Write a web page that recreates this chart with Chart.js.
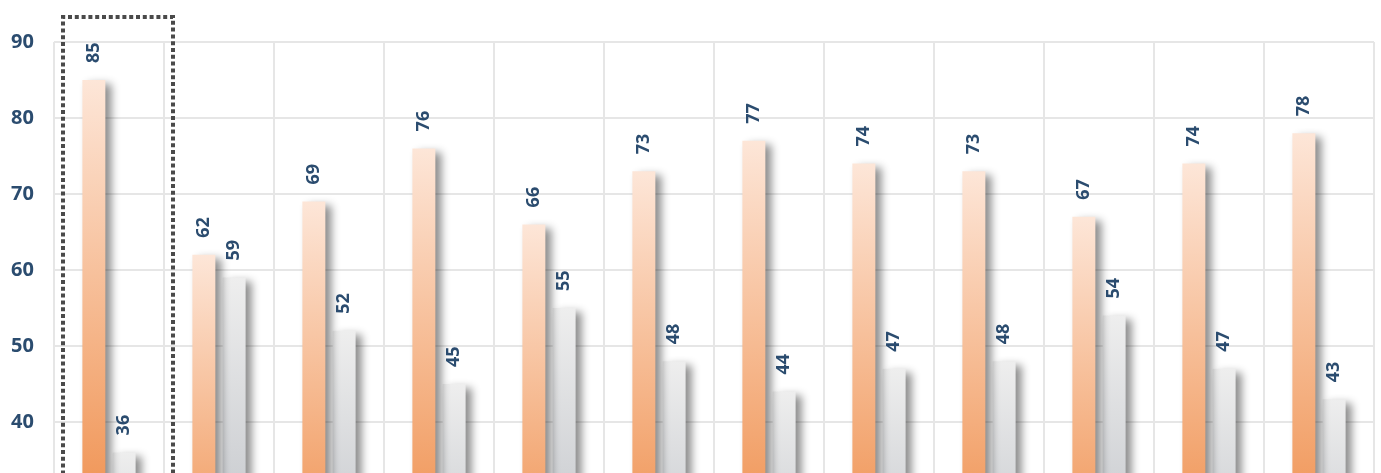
<!DOCTYPE html>
<html>
<head>
<meta charset="utf-8">
<title>Gráfico de barras</title>
<script src="https://cdn.jsdelivr.net/npm/chart.js@4/dist/chart.umd.min.js"></script>
<style>
  html, body { margin: 0; padding: 0; background: #fff; overflow: hidden; }
  canvas { display: block; }
</style>
</head>
<body>
<canvas id="chart" width="1381" height="760"></canvas>
<script>
// Dados do gráfico
const categories = ['1', '2', '3', '4', '5', '6', '7', '8', '9', '10', '11', '12'];
const seriesA = [85, 62, 69, 76, 66, 73, 77, 74, 73, 67, 74, 78];
const seriesB = [36, 59, 52, 45, 55, 48, 44, 47, 48, 54, 47, 43];
const yTicks = { min: 0, max: 90, step: 10 };

const TEXT_COLOR = '#2b4c6f';
const GRID_COLOR = '#e6e6e6';

/**
 * Gradiente vertical por barra: claro no topo, mais escuro na base (valor 0)
 */
function barGradient(topColor, baseColor) {
  return (context) => {
    const chart = context.chart;
    if (!chart.chartArea || context.type !== 'data') return baseColor;
    const y = chart.scales.y;
    const yTop = y.getPixelForValue(context.parsed.y);
    const yBase = y.getPixelForValue(0);
    const g = chart.ctx.createLinearGradient(0, yTop, 0, yBase);
    g.addColorStop(0, topColor);
    g.addColorStop(1, baseColor);
    return g;
  };
}

// Sombra à direita das barras
const barShadow = {
  id: 'barShadow',
  beforeDatasetsDraw(chart) {
    const ctx = chart.ctx;
    ctx.save();
    ctx.shadowColor = 'rgba(0, 0, 0, 0.45)';
    ctx.shadowBlur = 8;
    ctx.shadowOffsetX = 6;
    ctx.shadowOffsetY = 4;
  },
  afterDatasetsDraw(chart) {
    chart.ctx.restore();
  }
};

// Rótulos verticais acima de cada barra + destaque pontilhado na primeira categoria
const overlays = {
  id: 'overlays',
  afterDraw(chart) {
    const ctx = chart.ctx;

    ctx.save();
    ctx.fillStyle = TEXT_COLOR;
    ctx.font = 'bold 18px "Noto Sans", sans-serif';
    ctx.textAlign = 'left';
    ctx.textBaseline = 'middle';
    chart.data.datasets.forEach((ds, i) => {
      chart.getDatasetMeta(i).data.forEach((bar, j) => {
        ctx.save();
        ctx.translate(bar.x, bar.y - 17);
        ctx.rotate(-Math.PI / 2);
        ctx.fillText(String(ds.data[j]), 0, 0);
        ctx.restore();
      });
    });
    ctx.restore();

    // caixa pontilhada
    const x = chart.scales.x;
    const center = x.getPixelForValue(0);
    const left = center - 46;
    const right = center + 64;
    const top = chart.chartArea.top - 25;
    const bottom = chart.chartArea.bottom;
    ctx.save();
    ctx.strokeStyle = '#4a4a4a';
    ctx.lineWidth = 4;
    ctx.setLineDash([4, 2.8]);
    ctx.beginPath();
    ctx.moveTo(left, bottom);
    ctx.lineTo(left, top);
    ctx.lineTo(right, top);
    ctx.lineTo(right, bottom);
    ctx.stroke();
    ctx.restore();
  }
};

new Chart(document.getElementById('chart').getContext('2d'), {
  type: 'bar',
  data: {
    labels: categories,
    datasets: [
      {
        data: seriesA,
        backgroundColor: barGradient('#fde6d8', '#e9690f'),
        categoryPercentage: 0.55,
        barPercentage: 0.76
      },
      {
        data: seriesB,
        backgroundColor: barGradient('#eeeeee', '#a6abb3'),
        categoryPercentage: 0.55,
        barPercentage: 0.76
      }
    ]
  },
  options: {
    responsive: false,
    animation: false,
    devicePixelRatio: 1,
    layout: { padding: { top: 42, right: 7, bottom: 34, left: 0 } },
    plugins: {
      legend: { display: false },
      tooltip: { enabled: false }
    },
    scales: {
      x: {
        grid: { color: GRID_COLOR, lineWidth: 2, offset: true, drawTicks: false },
        border: { display: false },
        ticks: { display: false },
        afterFit(scale) { scale.height = 0; }
      },
      y: {
        min: yTicks.min,
        max: yTicks.max,
        grid: { color: GRID_COLOR, lineWidth: 2, drawTicks: false },
        border: { display: false },
        ticks: {
          stepSize: yTicks.step,
          padding: 20,
          color: TEXT_COLOR,
          font: { family: '"Noto Sans", sans-serif', size: 20, weight: 'bold' }
        },
        afterFit(scale) { scale.width = 54; }
      }
    }
  },
  plugins: [barShadow, overlays]
});
</script>
</body>
</html>
